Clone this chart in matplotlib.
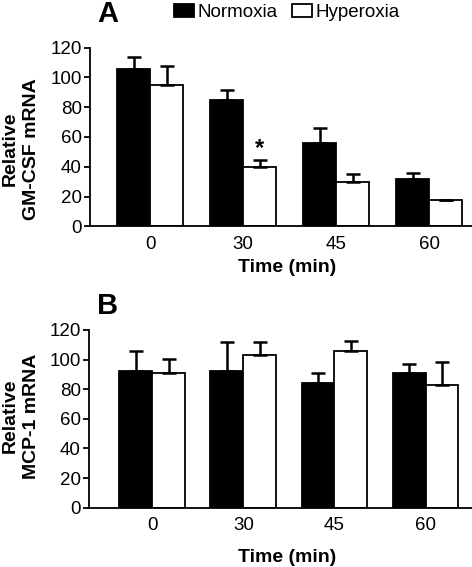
import matplotlib
matplotlib.use("Agg")
import matplotlib.pyplot as plt
from matplotlib.patches import Patch
import numpy as np

plt.rcParams["font.family"] = ["Liberation Sans", "DejaVu Sans"]

times = ["0", "30", "45", "60"]

# Panel A: GM-CSF
gm_norm = [105.4, 84.8, 56.1, 31.5]
gm_norm_err = [8.4, 7.1, 9.9, 4.1]
gm_hyper = [94.8, 40.0, 29.7, 17.6]
gm_hyper_err = [12.8, 4.5, 5.3, 0.0]

# Panel B: MCP-1
mcp_norm = [92.5, 92.5, 84.0, 91.0]
mcp_norm_err = [13.5, 19.4, 7.0, 6.0]
mcp_hyper = [90.7, 103.1, 106.0, 83.0]
mcp_hyper_err = [9.5, 8.8, 6.6, 15.2]

W, H = 472, 567
fig = plt.figure(figsize=(W / 100, H / 100), dpi=100)


def px_axes(left, top, right, bottom):
    return fig.add_axes([left / W, 1 - bottom / H, (right - left) / W, (bottom - top) / H])


def draw_panel(ax, norm, nerr, hyper, herr, width, xmin, xmax):
    x = np.arange(len(times))
    ekw = dict(elinewidth=1.8, capthick=1.8, ecolor="black")
    ax.bar(x - width / 2, norm, width, color="black", edgecolor="black", linewidth=1.3,
           yerr=[np.zeros(len(nerr)), nerr], capsize=5, error_kw=ekw, zorder=2)
    ax.bar(x + width / 2, hyper, width, color="white", edgecolor="black", linewidth=1.3,
           yerr=[np.zeros(len(herr)), herr], capsize=5, error_kw=ekw, zorder=2)
    ax.set_ylim(0, 120)
    ax.set_xlim(xmin, xmax)
    ax.set_yticks(range(0, 121, 20))
    ax.set_xticks(x)
    ax.set_xticklabels(times)
    for s in ["top", "right"]:
        ax.spines[s].set_visible(False)
    for s in ["left", "bottom"]:
        ax.spines[s].set_linewidth(1.3)
    ax.tick_params(axis="y", length=4, width=1.3, labelsize=13.5, pad=2)
    ax.tick_params(axis="x", length=0, labelsize=13.5, pad=7)


axA = px_axes(90, 47.7, 472, 226.3)
draw_panel(axA, gm_norm, gm_norm_err, gm_hyper, gm_hyper_err, 0.355, -0.645, 3.46)
axA.text(1 + 0.355 / 2, gm_hyper[1] + gm_hyper_err[1] + 8, "*", ha="center", va="center",
         fontsize=17, fontweight="bold")

axB = px_axes(89.3, 330, 472, 507.7)
draw_panel(axB, mcp_norm, mcp_norm_err, mcp_hyper, mcp_hyper_err, 0.36, -0.69, 3.51)

# y labels
for yc, name in [(149, "GM-CSF mRNA"), (416, "MCP-1 mRNA")]:
    fig.text(10 / W, 1 - yc / H, "Relative", rotation=90, ha="center", va="center",
             fontsize=14, fontweight="bold")
    fig.text(32 / W, 1 - yc / H, name, rotation=90, ha="center", va="center",
             fontsize=14, fontweight="bold")

# x labels
fig.text(287 / W, 1 - 267 / H, "Time (min)", ha="center", va="center",
         fontsize=14, fontweight="bold")
fig.text(287 / W, 1 - 557 / H, "Time (min)", ha="center", va="center",
         fontsize=14, fontweight="bold")

# panel letters
fig.text(107.5 / W, 1 - 22 / H, "A", ha="center", va="baseline", fontsize=21, fontweight="bold")
fig.text(107.5 / W, 1 - 314 / H, "B", ha="center", va="baseline", fontsize=21, fontweight="bold")

# legend
handles = [Patch(facecolor="black", edgecolor="black", linewidth=1.3),
           Patch(facecolor="white", edgecolor="black", linewidth=1.3)]
fig.legend(handles, ["Normoxia", "Hyperoxia"], loc="center", bbox_to_anchor=(287 / W, 1 - 12.5 / H),
           ncol=2, frameon=False, fontsize=13.5, handlelength=1.05, handleheight=0.7,
           handletextpad=0.2, columnspacing=0.8, borderpad=0)

fig.savefig("out.png", dpi=100)
